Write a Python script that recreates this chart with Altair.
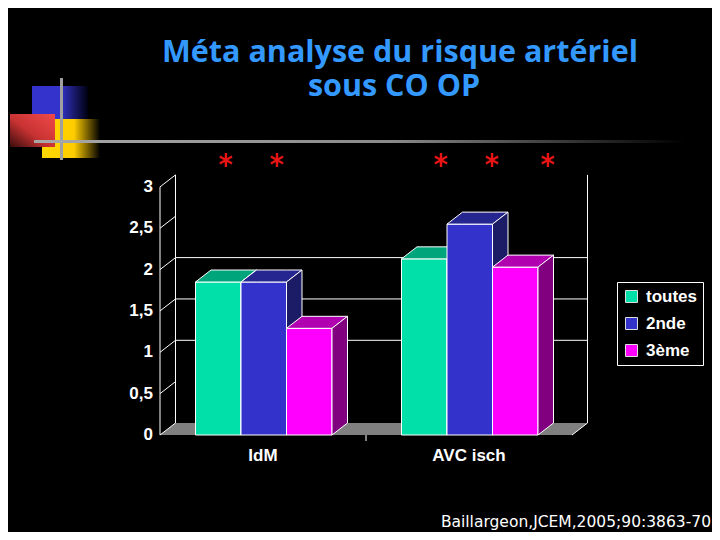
import altair as alt
import pandas as pd

# ---------------- data ----------------
categories = ["IdM", "AVC isch"]
series = ["toutes", "2nde", "3ème"]
values_toutes = [1.85, 2.13]
values_2nde = [1.85, 2.55]
values_3eme = [1.29, 2.03]
y_ticks = [0, 0.5, 1, 1.5, 2, 2.5, 3]
y_tick_labels = ["0", "0,5", "1", "1,5", "2", "2,5", "3"]
gridline_values = [1, 1.5, 2]
star_x = [0.32, 0.568, 1.364, 1.612, 1.883]   # category units
star_y = [3.325, 3.325, 3.325, 3.325, 3.325]
title_lines = ["Méta analyse du risque artériel", "sous CO OP"]
citation = "Baillargeon,JCEM,2005;90:3863-70"

front_colors = ["#00E0A8", "#3333CC", "#FF00FF"]
top_colors = ["#00A57C", "#262690", "#B000B0"]
side_colors = ["#007A5C", "#1C1C66", "#800080"]

all_values = [values_toutes, values_2nde, values_3eme]

# ---------------- layout ----------------
W, H = 704, 524
PX_Y, ZERO_Y = 82.7, 427.0
PX_X, ZERO_X = 206.0, 152.0
y_dom = [-(H - ZERO_Y) / PX_Y, ZERO_Y / PX_Y]
x_dom = [-ZERO_X / PX_X, (W - ZERO_X) / PX_X]
DX = 15.5 / PX_X
DY = 12.0 / PX_Y
BAR_OFF = 35.5 / PX_X
BAR_W = 45.5 / PX_X
NCAT = len(categories)

xs = alt.Scale(domain=x_dom, nice=False, zero=False)
ys = alt.Scale(domain=y_dom, nice=False, zero=False)


def X(f):
    return alt.X(f, type="quantitative", scale=xs, axis=None)


def Y(f):
    return alt.Y(f, type="quantitative", scale=ys, axis=None)


def one():
    return pd.DataFrame({"a": [0]})


layers = []

# ---- decoration (top-left squares and lines) ----
def grad(stops, x1=0, y1=0, x2=1, y2=0):
    return alt.LinearGradient(gradient="linear", x1=x1, y1=y1, x2=x2, y2=y2,
                              stops=[alt.GradientStop(offset=o, color=c) for o, c in stops])

deco = [
    ((24, 80, 78, 111), grad([(0, "#3434CC"), (0.5, "#3434CC"), (1, "#000010")])),
    ((34, 92, 111, 150), grad([(0, "#FFD700"), (0.55, "#FFCC00"), (1, "#000000")])),
    ((2, 47, 106, 139), grad([(0, "#F04A4A"), (0.55, "#C83232"), (1, "#3A0C0C")], 1, 0, 0, 1)),
    ((52, 55, 70, 152), "#A0A0A0"),
    ((26, 677, 132, 135), grad([(0, "#A8A8A8"), (0.55, "#8A8A8A"), (1, "#000000")])),
]
for (x0, x1, y0, y1), col in deco:
    layers.append(
        alt.Chart(one()).mark_rect(color=col).encode(
            x=alt.value(x0), x2=alt.value(x1), y=alt.value(y0), y2=alt.value(y1)
        )
    )

# ---- floor ----
floor = pd.DataFrame({
    "x": [0, DX, NCAT, NCAT + DX],
    "lo": [0, 0, 0, DY],
    "hi": [0, DY, DY, DY],
})
layers.append(alt.Chart(floor).mark_area(fill="#808080", opacity=1).encode(
    x=X("x"), y=Y("lo"), y2=alt.Y2("hi")))

# ---- back gridlines ----
grid = pd.DataFrame({"x0": DX, "x1": NCAT + DX, "y": [v + DY for v in gridline_values]})
layers.append(alt.Chart(grid).mark_rule(color="white", strokeWidth=1).encode(
    x=X("x0"), x2=alt.X2("x1"), y=Y("y")))

# ---- walls / axis lines ----
ymax = y_ticks[-1]
lines = pd.DataFrame({
    "x0": [0, DX, NCAT + DX, NCAT] + [0] * len(y_ticks) + [1],
    "x1": [0, DX, NCAT + DX, NCAT + DX] + [DX] * len(y_ticks) + [1],
    "y0": [0, DY, DY, 0] + list(y_ticks) + [0],
    "y1": [ymax, ymax + DY, ymax + DY, DY] + [v + DY for v in y_ticks] + [-6 / PX_Y],
})
layers.append(alt.Chart(lines).mark_rule(color="white", strokeWidth=1).encode(
    x=X("x0"), x2=alt.X2("x1"), y=Y("y0"), y2=alt.Y2("y1")))

# ---- 3D bars ----
legend = alt.Legend(
    orient="none", legendX=609, legendY=274, title=None,
    fillColor="black", strokeColor="white", padding=6, cornerRadius=0,
    symbolType="square", symbolSize=144, symbolStrokeColor="#DDDDDD", symbolStrokeWidth=1,
    labelColor="white", labelFont="Liberation Sans", labelFontSize=17,
    labelFontWeight="bold", labelOffset=6, rowPadding=9,
)
color_scale = alt.Scale(domain=series, range=front_colors)

for si, s in enumerate(series):
    fr, tp, sd = [], [], []
    for ci, cat in enumerate(categories):
        v = all_values[si][ci]
        x0 = ci + BAR_OFF + si * BAR_W
        x1 = x0 + BAR_W
        fr.append({"series": s, "cat": cat, "x0": x0, "x1": x1, "y0": 0.0, "v": v})
        for (px, lo, hi) in [(x0, v, v), (x0 + DX, v, v + DY), (x1, v, v + DY), (x1 + DX, v + DY, v + DY)]:
            tp.append({"cat": cat, "x": px, "lo": lo, "hi": hi})
        for (px, lo, hi) in [(x1, 0.0, v), (x1 + DX, DY, v + DY)]:
            sd.append({"cat": cat, "x": px, "lo": lo, "hi": hi})
    layers.append(alt.Chart(pd.DataFrame(fr)).mark_rect(stroke="white", strokeWidth=1).encode(
        x=X("x0"), x2=alt.X2("x1"), y=Y("y0"), y2=alt.Y2("v"),
        color=alt.Color("series:N", scale=color_scale, legend=legend)))
    layers.append(alt.Chart(pd.DataFrame(tp)).mark_area(
        fill=top_colors[si], stroke="white", strokeWidth=1, opacity=1).encode(
        x=X("x"), y=Y("lo"), y2=alt.Y2("hi"), detail="cat:N"))
    layers.append(alt.Chart(pd.DataFrame(sd)).mark_area(
        fill=side_colors[si], stroke="white", strokeWidth=1, opacity=1).encode(
        x=X("x"), y=Y("lo"), y2=alt.Y2("hi"), detail="cat:N"))

# ---- y tick labels ----
ticks = pd.DataFrame({"v": y_ticks, "label": y_tick_labels})
layers.append(alt.Chart(ticks).mark_text(
    align="right", baseline="middle", color="white",
    font="Liberation Sans", fontSize=17, fontWeight="bold").encode(
    x=alt.value(145), y=Y("v"), text="label:N"))

# ---- category labels ----
cats = pd.DataFrame({"c": [i + 0.5 for i in range(NCAT)], "label": categories})
layers.append(alt.Chart(cats).mark_text(
    align="center", baseline="alphabetic", color="white",
    font="Liberation Sans", fontSize=17, fontWeight="bold").encode(
    x=X("c"), y=alt.value(453), text="label:N"))

# ---- significance stars ----
star_path = "M0,-1L0,1M-0.866,-0.5L0.866,0.5M-0.866,0.5L0.866,-0.5"
stars = pd.DataFrame({"x": star_x, "y": star_y})
layers.append(alt.Chart(stars).mark_point(
    shape=star_path, filled=False, stroke="#E81414", strokeWidth=2.4, size=200, opacity=1).encode(
    x=X("x"), y=Y("y")))

# ---- title ----
for txt, tx, ty in [(title_lines[0], 392, 54), (title_lines[1], 386, 88)]:
    layers.append(alt.Chart(one()).mark_text(
        text=txt, align="center", baseline="alphabetic", color="#3399FF",
        font="Open Sans", fontSize=30.5, fontWeight="bold").encode(
        x=alt.value(tx), y=alt.value(ty)))

# ---- citation ----
layers.append(alt.Chart(one()).mark_text(
    text=citation, align="right", baseline="alphabetic", color="white",
    font="DejaVu Sans", fontSize=15.5).encode(
    x=alt.value(703), y=alt.value(519)))

chart = alt.layer(*layers).properties(
    width=W, height=H, background="black", padding=0,
    autosize=alt.AutoSizeParams(type="none"),
).configure_view(strokeWidth=0)

chart.save("out.html", embed_options={"renderer": "svg", "actions": False})
